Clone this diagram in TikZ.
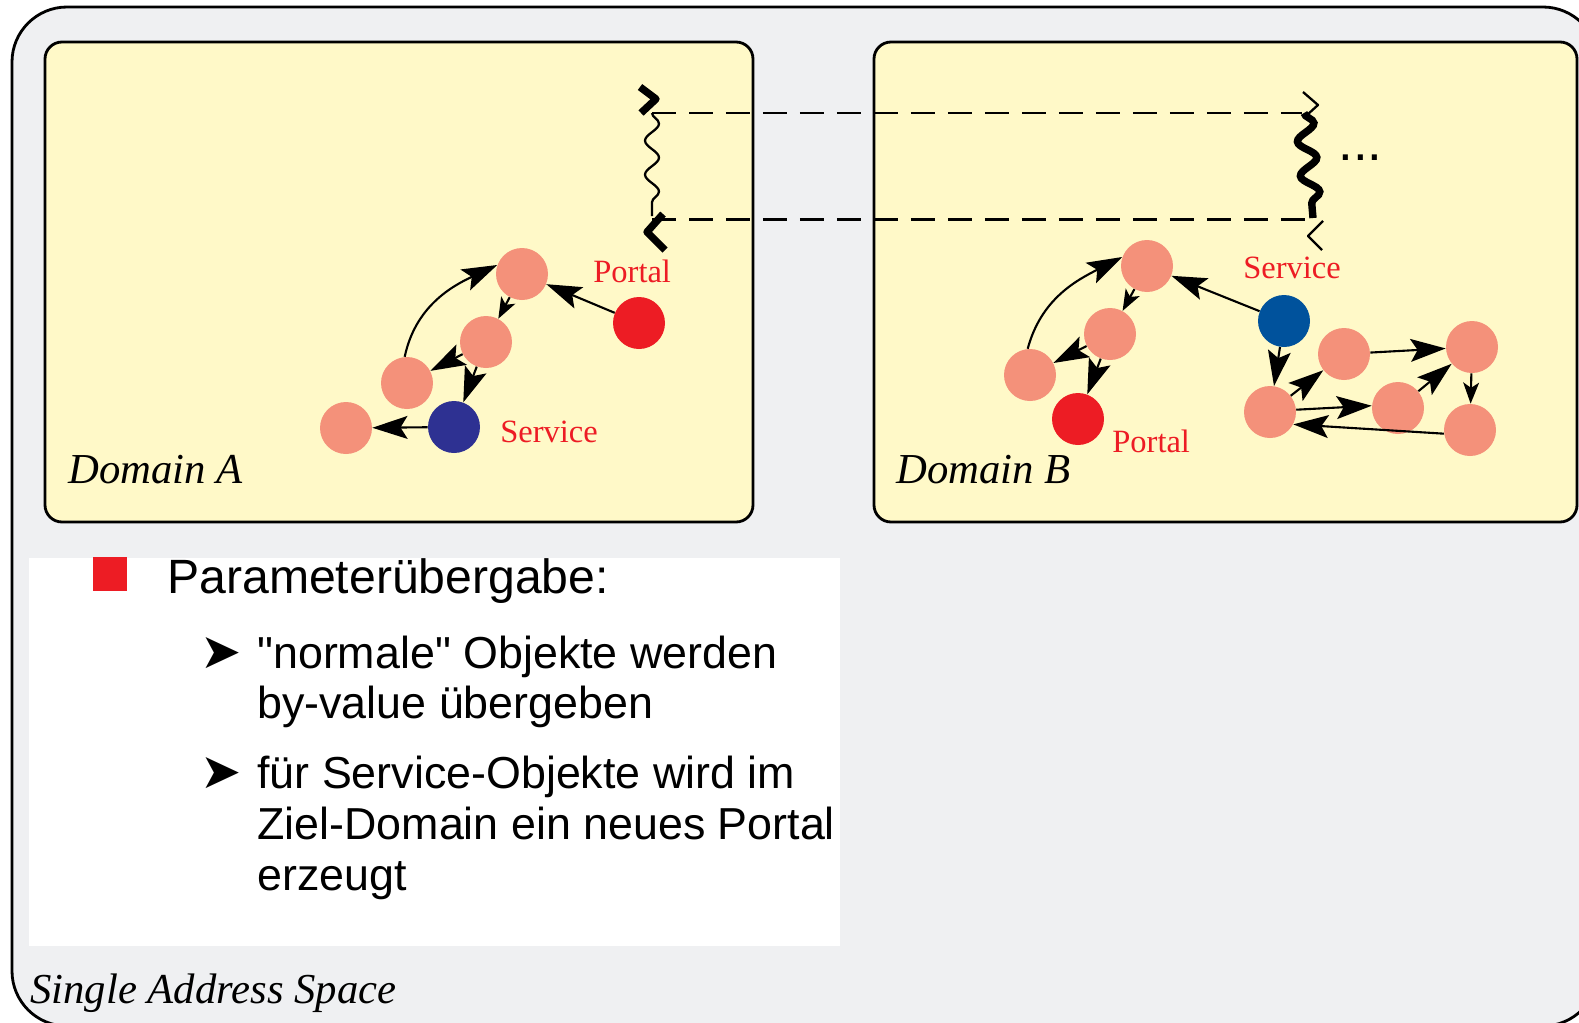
\documentclass[tikz,border=0pt]{standalone}
\usepackage{fontspec}
\setmainfont{Liberation Serif}
\setsansfont{Liberation Sans}
\newfontfamily\symfont{DejaVu Sans}
\usetikzlibrary{arrows.meta,decorations.pathmorphing}

\definecolor{spacegray}{HTML}{EFF0F2}
\definecolor{domainyellow}{HTML}{FFF9C8}
\definecolor{objsalmon}{HTML}{F4917A}
\definecolor{portalred}{HTML}{ED1C24}
\definecolor{servblueA}{HTML}{2E3192}
\definecolor{servblueB}{HTML}{00529C}

\tikzset{
	obj/.style={circle, fill=objsalmon, minimum size=1.04cm, inner sep=0pt},
	portalobj/.style={obj, fill=portalred},
	ref/.style={line width=1.2pt, -{Stealth[length=20pt,width=13pt,inset=4pt]}},
	shortref/.style={line width=1.2pt, -{Stealth[length=12pt,width=9pt,inset=3pt]}},
	redlabel/.style={anchor=base west, inner sep=0pt, text=portalred, font=\fontsize{18.5}{22}\selectfont},
	domlabel/.style={anchor=base west, inner sep=0pt, font=\fontsize{24.3}{29}\selectfont\itshape},
	bodytext/.style={anchor=base west, inner sep=0pt, font=\sffamily\fontsize{25.5}{29}\selectfont},
	bullettip/.style={anchor=base west, inner sep=0pt, font=\symfont\fontsize{28}{28}\selectfont},
	thread/.style={line width=1.7pt, dash pattern=on 0.48cm off 0.26cm},
}

\begin{document}
\begin{tikzpicture}[x=0.02cm, y=0.02cm]
			%%%%% START %%%%%
			\useasboundingbox (0,0) rectangle (1579,-1022);
			
			\draw[line width=1.6pt, fill=spacegray, rounded corners=1.1cm] (12,-7) rectangle (1598,-1026);
			\draw[line width=1.6pt, fill=domainyellow, rounded corners=0.34cm] (45,-42) rectangle (753,-522);
			\draw[line width=1.6pt, fill=domainyellow, rounded corners=0.34cm] (874,-42) rectangle (1577,-522);
			\fill[white] (29,-558) rectangle (840,-946);
			
			\node[domlabel] (domA) at (68,-483) {Domain A};
			\node[domlabel] (domB) at (896,-483) {Domain B};
			\node[domlabel] (sas) at (30,-1003) {Single Address Space};
			
			%%%%% threads %%%%%
			\draw[thread] (652,-113) -- (1302,-113);
			\draw[thread] (652,-219) -- (1313,-219);
			
			\draw[line width=1.3pt, decorate, decoration={snake, amplitude=0.14cm, segment length=0.68cm}] (652,-113) -- (652,-216);
			\draw[line width=4.2pt, line join=round] (640,-87) -- (656,-99) -- (641,-113);
			\draw[line width=4.2pt, line join=round] (663,-214) -- (647,-232) -- (665,-250);
			
			\draw[line width=4.2pt, decorate, decoration={snake, amplitude=0.18cm, segment length=0.69cm}] (1304,-113) -- (1313,-218);
			\draw[line width=1.3pt, line join=round] (1303,-92) -- (1318,-105) -- (1307,-115);
			\draw[line width=1.3pt, line join=round] (1323,-221) -- (1308,-236) -- (1322,-250);
			\node[anchor=base west, inner sep=0pt, font=\sffamily\fontsize{30}{30}\selectfont] (more) at (1338,-160) {...};
			
			%%%%% Domain A %%%%%
			\node[obj] (a1) at (522,-274) {};
			\node[obj] (a2) at (486,-342) {};
			\node[obj] (a3) at (407,-383) {};
			\node[obj] (a4) at (346,-428) {};
			\node[obj, fill=servblueA] (aserv) at (454,-427) {};
			\node[portalobj] (aport) at (639,-323) {};
			\node[redlabel] (aportlbl) at (593,-282) {Portal};
			\node[redlabel] (aservlbl) at (500,-442) {Service};
			
			\draw[ref] (aport) -- (a1);
			\draw[shortref] (a1) -- (a2);
			\draw[ref] (a2) -- (a3);
			\draw[ref] (a2) -- (aserv);
			\draw[ref] (aserv) -- (a4);
			\draw[ref] (a3.95) to[out=78, in=205] (a1.160);
			
			%%%%% Domain B %%%%%
			\node[obj] (b1) at (1147,-266) {};
			\node[obj] (b2) at (1110,-334) {};
			\node[obj] (b3) at (1030,-375) {};
			\node[portalobj] (bport) at (1078,-419) {};
			\node[obj, fill=servblueB] (bserv) at (1284,-321) {};
			\node[obj] (c1) at (1270,-412) {};
			\node[obj] (c2) at (1344,-354) {};
			\node[obj] (c3) at (1472,-347) {};
			\node[obj] (c4) at (1398,-408) {};
			\node[obj] (c5) at (1470,-430) {};
			\node[redlabel] (bservlbl) at (1243,-278) {Service};
			\node[redlabel] (bportlbl) at (1112,-452) {Portal};
			
			\draw[ref] (bserv) -- (b1);
			\draw[shortref] (b1) -- (b2);
			\draw[ref] (b2) -- (b3);
			\draw[ref] (b2) -- (bport);
			\draw[ref] (b3.95) to[out=75, in=207] (b1.160);
			\draw[ref] (bserv) -- (c1);
			\draw[ref] (c1) -- (c2);
			\draw[ref] (c1.5) -- (c4.175);
			\draw[ref] (c2) -- (c3);
			\draw[ref] (c4) -- (c3);
			\draw[shortref] (c3) -- (c5);
			\draw[ref] (c5.188) -- (c1.-28);
			
			%%%%% text %%%%%
			\fill[portalred] (93,-557) rectangle (127,-591);
			\node[bodytext, font=\sffamily\fontsize{27.4}{29}\selectfont] (head) at (167,-593) {Parameterübergabe:};
			\node[bullettip] (tip1) at (200,-668) {➤};
			\node[bodytext] (l1) at (257,-668) {\textquotedbl normale\textquotedbl{} Objekte werden};
			\node[bodytext] (l2) at (257,-718) {by-value übergeben};
			\node[bullettip] (tip2) at (200,-788) {➤};
			\node[bodytext] (l3) at (257,-788) {für Service-Objekte wird im};
			\node[bodytext] (l4) at (257,-839) {Ziel-Domain ein neues Portal};
			\node[bodytext] (l5) at (257,-890) {erzeugt};
			
			%%%%% END %%%%%
\end{tikzpicture}
\end{document}
